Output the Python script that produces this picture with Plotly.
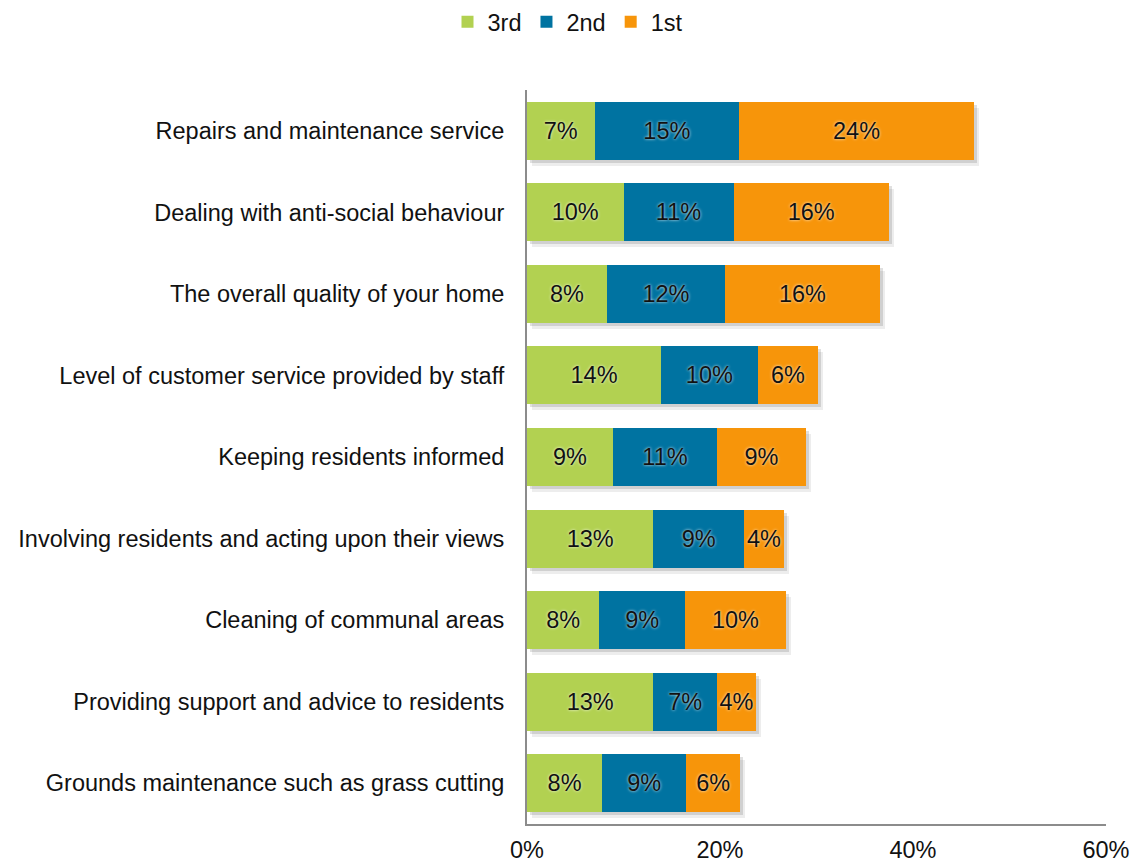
import plotly.graph_objects as go

categories = [
    "Repairs and maintenance service",
    "Dealing with anti-social behaviour",
    "The overall quality of your home",
    "Level of customer service provided by staff",
    "Keeping residents informed",
    "Involving residents and acting upon their views",
    "Cleaning of communal areas",
    "Providing support and advice to residents",
    "Grounds maintenance such as grass cutting",
]

third = [7.0, 10.0, 8.3, 13.9, 8.9, 13.1, 7.5, 13.1, 7.8]
second = [15.0, 11.4, 12.2, 10.0, 10.8, 9.4, 8.9, 6.6, 8.7]
first = [24.3, 16.1, 16.1, 6.3, 9.2, 4.1, 10.4, 4.0, 5.6]

tick_vals = [0, 20, 40, 60]
tick_text = ["0%", "20%", "40%", "60%"]

series = [
    ("3rd", third, "#B2D151"),
    ("2nd", second, "#0073A1"),
    ("1st", first, "#F7950A"),
]

totals = [a + b + c for a, b, c in zip(third, second, first)]

FONT = "Liberation Sans, Arial, sans-serif"
FS = 23.5
TXT = "#111111"

# Figure geometry (px)
W, H = 1136, 864
ML, MT = 527, 90
PW, PH = 579, 734          # visible plot area
PAD = 6                    # extra room for the drop shadow
MR = W - ML - PW - PAD
MB = H - MT - PH - PAD
AW, AH = PW + PAD, PH + PAD

main_xdom = [0, PW / AW]
main_ydom = [PAD / AH, 1]

fig = go.Figure()

# soft drop shadow: two translucent copies of the bar totals, nudged right/down
shadow_layers = [((5, 6), "rgba(0,0,0,0.07)"), ((3, 3), "rgba(0,0,0,0.12)")]
layout_axes = {}
for i, ((dx, dy), col) in enumerate(shadow_layers):
    xa = "x" if i == 0 else f"x{i + 1}"
    ya = "y" if i == 0 else f"y{i + 1}"
    fig.add_trace(go.Bar(
        y=categories, x=totals, orientation="h",
        marker=dict(color=col, line=dict(width=0)),
        xaxis=xa, yaxis=ya, showlegend=False, hoverinfo="skip",
    ))
    key = "" if i == 0 else str(i + 1)
    layout_axes["xaxis" + key] = dict(
        domain=[dx / AW, (PW + dx) / AW], range=[0, 60], visible=False,
        anchor=ya, automargin=False, showgrid=False, zeroline=False)
    layout_axes["yaxis" + key] = dict(
        domain=[(PAD - dy) / AH, (AH - dy) / AH], autorange="reversed",
        visible=False, anchor=xa, automargin=False, showgrid=False,
        zeroline=False)

n = len(shadow_layers) + 1
mx, my = f"x{n}", f"y{n}"
for name, vals, color in series:
    fig.add_trace(go.Bar(
        y=categories,
        x=vals,
        name=name,
        orientation="h",
        xaxis=mx, yaxis=my,
        marker=dict(color=color, line=dict(width=0)),
        texttemplate="%{x:.0f}%",
        textposition="inside",
        insidetextanchor="middle",
        textangle=0,
        constraintext="none",
        textfont=dict(family=FONT, size=FS, color=TXT,
                      shadow="0px 0px 3px rgba(255,255,255,0.9)"),
        hoverinfo="skip",
    ))

layout_axes[f"xaxis{n}"] = dict(
    domain=main_xdom,
    anchor=my,
    range=[0, 60],
    tickvals=tick_vals,
    ticktext=tick_text,
    showgrid=False,
    zeroline=False,
    showline=True,
    linecolor="#8C8C8C",
    linewidth=2,
    ticks="",
    ticklabelstandoff=4,
    automargin=False,
    tickfont=dict(family=FONT, size=FS, color=TXT),
)
layout_axes[f"yaxis{n}"] = dict(
    domain=main_ydom,
    anchor=mx,
    autorange="reversed",
    showgrid=False,
    zeroline=False,
    showline=True,
    linecolor="#8C8C8C",
    linewidth=2,
    ticks="",
    ticklabelstandoff=16,
    automargin=False,
    tickfont=dict(family=FONT, size=FS, color=TXT),
)

fig.update_layout(
    barmode="stack",
    bargap=0.29,
    width=W,
    height=H,
    margin=dict(l=ML, r=MR, t=MT, b=MB),
    paper_bgcolor="white",
    plot_bgcolor="rgba(0,0,0,0)",
    font=dict(family=FONT, size=FS, color=TXT),
    legend=dict(
        orientation="h",
        xref="container",
        yref="container",
        x=0.5,
        y=1.0,
        xanchor="center",
        yanchor="top",
        traceorder="normal",
        font=dict(family=FONT, size=FS, color=TXT),
        itemwidth=30,
    ),
    **layout_axes,
)

fig.write_html("out.html")
